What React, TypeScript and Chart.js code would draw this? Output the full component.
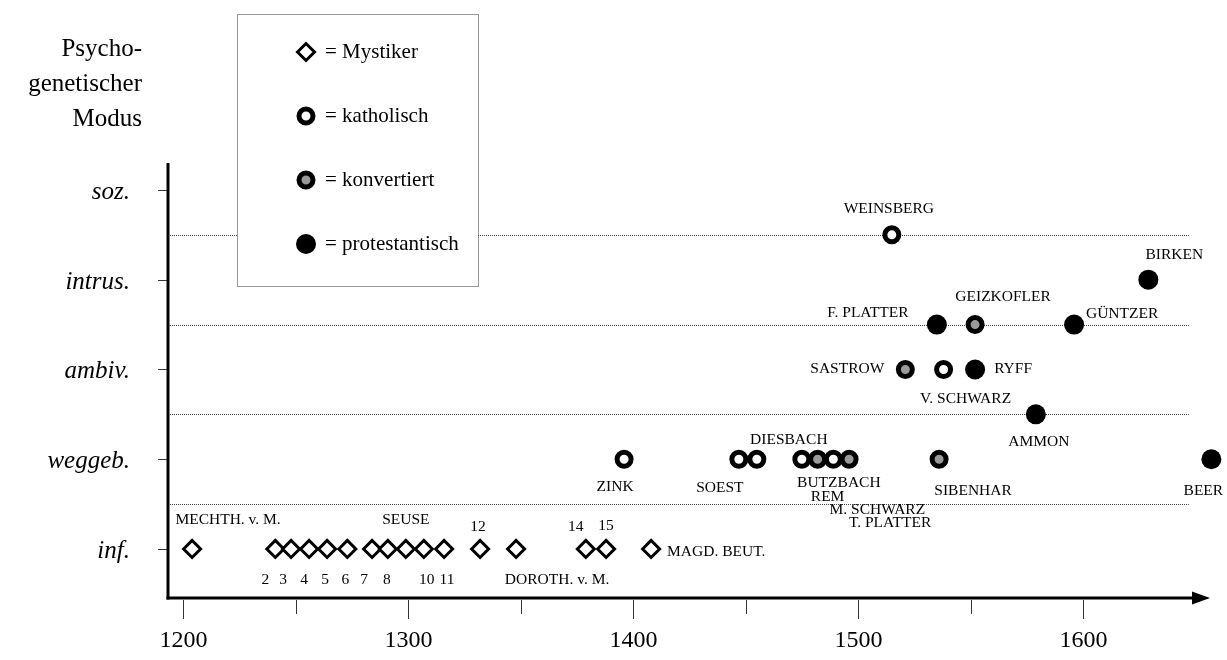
import { useEffect, useRef } from 'react';
import { Chart, registerables } from 'chart.js';

Chart.register(...registerables);

// ---- data ----
const modeLabels = ['inf.', 'weggeb.', 'ambiv.', 'intrus.', 'soz.'];
const majorTickYears = [1200, 1300, 1400, 1500, 1600];
const minorTickYears = [1250, 1350, 1450, 1550];
const separatorLevels = [0.5, 1.5, 2.5, 3.5];
const titleLines = ['Psycho-', 'genetischer', 'Modus'];
const legendLabels = ['= Mystiker', '= katholisch', '= konvertiert', '= protestantisch'];

const mystikerYears = [1204, 1241, 1248, 1256, 1264, 1273, 1284, 1291, 1299, 1307, 1316, 1332, 1348, 1379, 1388, 1408];
const mystikerModes = [0, 0, 0, 0, 0, 0, 0, 0, 0, 0, 0, 0, 0, 0, 0, 0];
const mystikerNames = ['MECHTH. v. M.', '2', '3', '4', '5', '6', '7', '8', 'SEUSE', '10', '11', '12', 'DOROTH. v. M.', '14', '15', 'MAGD. BEUT.'];

const katholischYears = [1396, 1447, 1455, 1475, 1489, 1515, 1538];
const katholischModes = [1, 1, 1, 1, 1, 3.5, 2];
const katholischNames = ['ZINK', 'SOEST', 'DIESBACH', 'BUTZBACH', 'M. SCHWARZ', 'WEINSBERG', 'V. SCHWARZ'];

const konvertiertYears = [1482, 1496, 1536, 1521, 1552];
const konvertiertModes = [1, 1, 1, 2, 2.5];
const konvertiertNames = ['REM', 'T. PLATTER', 'SIBENHAR', 'SASTROW', 'GEIZKOFLER'];

const protestantischYears = [1535, 1552, 1596, 1629, 1579, 1657];
const protestantischModes = [2.5, 2, 2.5, 3, 1.5, 1];
const protestantischNames = ['F. PLATTER', 'RYFF', 'GÜNTZER', 'BIRKEN', 'AMMON', 'BEER'];

// ---- label placement (pixel offsets from the point) ----
const labelPlacement: Record<string, [number, number, CanvasTextAlign?]> = {
  'MECHTH. v. M.': [36, -29],
  '2': [-10, 31], '3': [-8, 31], '4': [-5, 31], '5': [-2, 31], '6': [-2, 31],
  '7': [-8, 31], '8': [-1, 31], 'SEUSE': [0, -29], '10': [3, 31], '11': [3, 31],
  '12': [-2, -22], 'DOROTH. v. M.': [41, 31], '14': [-10, -22], '15': [0, -23],
  'MAGD. BEUT.': [16, 3, 'left'],
  'ZINK': [-9, 28], 'SOEST': [-19, 29], 'DIESBACH': [32, -19], 'BUTZBACH': [37, 24],
  'REM': [10, 38], 'M. SCHWARZ': [44, 51], 'T. PLATTER': [41, 64], 'SIBENHAR': [34, 32],
  'BEER': [-8, 32], 'WEINSBERG': [-3, -26], 'BIRKEN': [26, -25], 'F. PLATTER': [-69, -12],
  'GEIZKOFLER': [28, -28], 'GÜNTZER': [48, -11], 'SASTROW': [-58, -1], 'V. SCHWARZ': [22, 29],
  'RYFF': [38, -1], 'AMMON': [3, 28],
};

const SERIF = '"Liberation Serif", "Times New Roman", serif';
const GREY = '#9a9a9a';
const DIAMOND_R = 8.5;

function toPoints(xs: number[], ys: number[], names: string[]) {
  return xs.map((x, i) => ({ x, y: ys[i], name: names[i] }));
}

function drawMarker(ctx: CanvasRenderingContext2D, kind: number, x: number, y: number) {
  ctx.save();
  if (kind === 0) {
    const r = DIAMOND_R;
    ctx.beginPath();
    ctx.moveTo(x - r, y); ctx.lineTo(x, y - r); ctx.lineTo(x + r, y); ctx.lineTo(x, y + r);
    ctx.closePath();
    ctx.fillStyle = '#fff'; ctx.fill();
    ctx.lineWidth = 3; ctx.strokeStyle = '#000'; ctx.stroke();
  } else if (kind === 3) {
    ctx.beginPath(); ctx.arc(x, y, 10, 0, Math.PI * 2);
    ctx.fillStyle = '#000'; ctx.fill();
  } else {
    ctx.beginPath(); ctx.arc(x, y, 7, 0, Math.PI * 2);
    ctx.fillStyle = kind === 1 ? '#fff' : GREY; ctx.fill();
    ctx.lineWidth = 5; ctx.strokeStyle = '#000'; ctx.stroke();
  }
  ctx.restore();
}

const decorPlugin = {
  id: 'decor',
  beforeDatasetsDraw(chart: any) {
    const { ctx, chartArea, scales } = chart;
    const xs = scales.x, ys = scales.y;
    ctx.save();
    // separator dotted lines
    ctx.strokeStyle = '#444';
    ctx.lineWidth = 1;
    ctx.setLineDash([1, 1]);
    separatorLevels.forEach((lv) => {
      const py = Math.round(ys.getPixelForValue(lv)) + 0.5;
      ctx.beginPath();
      ctx.moveTo(chartArea.left + 2, py);
      ctx.lineTo(xs.getPixelForValue(1647), py);
      ctx.stroke();
    });
    // legend box
    ctx.setLineDash([]);
    ctx.fillStyle = '#fff';
    ctx.fillRect(237, 14, 241, 272);
    ctx.setLineDash([1, 1]);
    ctx.strokeStyle = '#333';
    ctx.strokeRect(237.5, 14.5, 241, 272);
    ctx.setLineDash([]);
    legendLabels.forEach((t, i) => {
      const ly = 52 + i * 64;
      drawMarker(ctx, i, 306, ly);
      ctx.fillStyle = '#000';
      ctx.font = `21px ${SERIF}`;
      ctx.textAlign = 'left';
      ctx.textBaseline = 'alphabetic';
      ctx.fillText(t, 325, ly + 6);
    });
    // title
    ctx.font = `25px ${SERIF}`;
    ctx.textAlign = 'right';
    ctx.fillStyle = '#000';
    titleLines.forEach((t, i) => ctx.fillText(t, 142, 56 + i * 35));
    // y axis
    const left = chartArea.left;
    const bottom = chartArea.bottom;
    ctx.strokeStyle = '#000';
    ctx.lineWidth = 3;
    ctx.beginPath();
    ctx.moveTo(left, chartArea.top);
    ctx.lineTo(left, bottom + 1.5);
    ctx.stroke();
    // x axis with arrow
    ctx.beginPath();
    ctx.moveTo(left - 1.5, bottom);
    ctx.lineTo(chartArea.right - 12, bottom);
    ctx.stroke();
    ctx.beginPath();
    ctx.moveTo(chartArea.right - 18, bottom - 6.5);
    ctx.lineTo(chartArea.right, bottom);
    ctx.lineTo(chartArea.right - 18, bottom + 6.5);
    ctx.closePath();
    ctx.fillStyle = '#000';
    ctx.fill();
    // y ticks and labels
    ctx.lineWidth = 1;
    ctx.strokeStyle = '#333';
    ctx.font = `italic 25px ${SERIF}`;
    ctx.textAlign = 'right';
    modeLabels.forEach((lab, i) => {
      const py = Math.round(ys.getPixelForValue(i)) + 0.5;
      ctx.beginPath();
      ctx.moveTo(left - 10, py);
      ctx.lineTo(left - 1, py);
      ctx.stroke();
      ctx.fillText(lab, 130, py + 8);
    });
    // x ticks and labels
    ctx.font = `24px ${SERIF}`;
    ctx.textAlign = 'center';
    majorTickYears.forEach((yr) => {
      const px = Math.round(xs.getPixelForValue(yr)) + 0.5;
      ctx.beginPath();
      ctx.moveTo(px, bottom + 2);
      ctx.lineTo(px, bottom + 21);
      ctx.stroke();
      ctx.fillText(String(yr), px, 647);
    });
    minorTickYears.forEach((yr) => {
      const px = Math.round(xs.getPixelForValue(yr)) + 0.5;
      ctx.beginPath();
      ctx.moveTo(px, bottom + 2);
      ctx.lineTo(px, bottom + 16);
      ctx.stroke();
    });
    ctx.restore();
  },
  afterDatasetsDraw(chart: any) {
    const { ctx } = chart;
    ctx.save();
    ctx.fillStyle = '#000';
    ctx.font = `15.5px ${SERIF}`;
    ctx.textBaseline = 'middle';
    chart.data.datasets.forEach((ds: any, di: number) => {
      const meta = chart.getDatasetMeta(di);
      meta.data.forEach((el: any, i: number) => {
        const name = ds.data[i].name;
        const pl = labelPlacement[name];
        if (!pl) return;
        ctx.textAlign = pl[2] || 'center';
        ctx.fillText(name, el.x + pl[0], el.y + pl[1]);
      });
    });
    ctx.restore();
  },
};

export default function App() {
  const ref = useRef<HTMLCanvasElement | null>(null);
  useEffect(() => {
    if (!ref.current) return;
    const chart = new Chart(ref.current, {
      type: 'scatter',
      data: {
        datasets: [
          {
            label: 'Mystiker',
            data: toPoints(mystikerYears, mystikerModes, mystikerNames),
            pointStyle: 'rectRot', pointRadius: DIAMOND_R, pointBorderWidth: 3,
            pointBackgroundColor: '#fff', pointBorderColor: '#000', clip: false,
          },
          {
            label: 'katholisch',
            data: toPoints(katholischYears, katholischModes, katholischNames),
            pointStyle: 'circle', pointRadius: 7, pointBorderWidth: 5,
            pointBackgroundColor: '#fff', pointBorderColor: '#000', clip: false,
          },
          {
            label: 'konvertiert',
            data: toPoints(konvertiertYears, konvertiertModes, konvertiertNames),
            pointStyle: 'circle', pointRadius: 7, pointBorderWidth: 5,
            pointBackgroundColor: GREY, pointBorderColor: '#000', clip: false,
          },
          {
            label: 'protestantisch',
            data: toPoints(protestantischYears, protestantischModes, protestantischNames),
            pointStyle: 'circle', pointRadius: 10, pointBorderWidth: 0,
            pointBackgroundColor: '#000', pointBorderColor: '#000', clip: false,
          },
        ] as any,
      },
      options: {
        responsive: false,
        animation: false,
        events: [],
        layout: { padding: { left: 168, right: 17, top: 163, bottom: 62 } },
        scales: {
          x: { type: 'linear', display: false, min: 1193.3, max: 1656.4 },
          y: { type: 'linear', display: false, min: -0.546, max: 4.3 },
        },
        plugins: { legend: { display: false }, tooltip: { enabled: false } },
      },
      plugins: [decorPlugin],
    });
    return () => chart.destroy();
  }, []);
  return (
    <canvas
      ref={ref}
      width={1227}
      height={660}
      style={{ position: 'fixed', left: 0, top: 0, display: 'block', background: '#fff' }}
    />
  );
}
